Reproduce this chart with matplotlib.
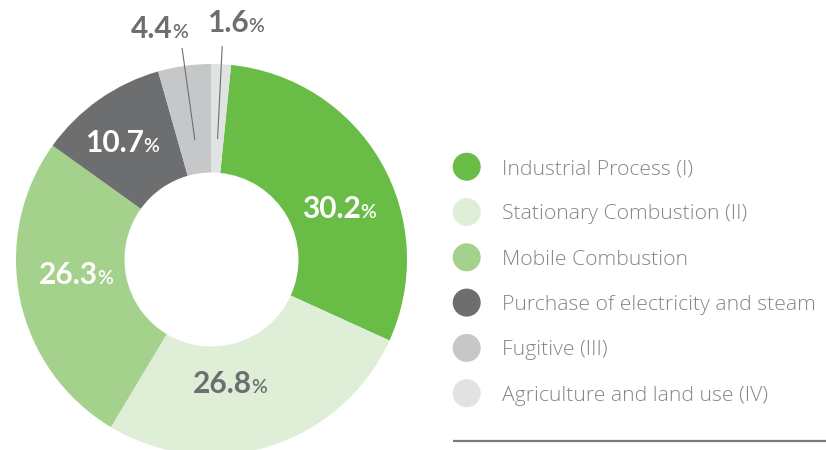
import numpy as np
import matplotlib.pyplot as plt

# emission sources, shares in %
categories = [
    "Industrial Process (I)",
    "Stationary Combustion (II)",
    "Mobile Combustion",
    "Purchase of electricity and steam",
    "Fugitive (III)",
    "Agriculture and land use (IV)",
]
shares = [30.2, 26.8, 26.3, 10.7, 4.4, 1.6]
labels = ["30.2", "26.8", "26.3", "10.7", "4.4", "1.6"]

colors = ["#69bd47", "#dfeed7", "#a4d18c", "#6d6e70", "#c6c7c9", "#e1e3e2"]
label_colors = ["white", "#6d6e70", "white", "white", "#6d6e70", "#6d6e70"]
# where the "number|%" junction sits, in pie data units (radius = 1)
label_xy = [(0.762, 0.212), (0.205, -0.683), (-0.580, -0.125),
            (-0.345, 0.550), (-0.197, 1.133), (0.190, 1.164)]
leader = [False, False, False, False, True, True]

W, H = 826, 450
fig = plt.figure(figsize=(W / 100, H / 100), dpi=100)

# donut, centre and radius in pixels
cx, cy, R = 211.5, 259.5, 195.5
ax = fig.add_axes([(cx - R) / W, (H - cy - R) / H, 2 * R / W, 2 * R / H])
start = 90 - 360 * shares[-1] / 100
wedges, _ = ax.pie(shares, colors=colors, startangle=start, counterclock=False,
                   radius=1, wedgeprops=dict(width=1 - 87 / R, linewidth=0))
ax.set_xlim(-1, 1)
ax.set_ylim(-1, 1)
ax.set_aspect("equal")
ax.axis("off")

for w, lab, (x, y), c, lead in zip(wedges, labels, label_xy, label_colors, leader):
    ax.text(x, y, lab, ha="right", va="baseline", color=c, fontsize=21.5,
            fontfamily="Lato", fontweight="bold")
    ax.text(x - 0.002, y, "%", ha="left", va="baseline", color=c, fontsize=14,
            fontfamily="Lato", fontweight="semibold")
    if lead:
        mid = np.deg2rad((w.theta1 + w.theta2) / 2)
        r = np.array([0.62, 1.09])
        ax.plot(r * np.cos(mid), r * np.sin(mid), color="#6d6e70", lw=0.8,
                clip_on=False)

# legend drawn on a pixel-scaled overlay
lg = fig.add_axes([0, 0, 1, 1])
lg.set_xlim(0, W)
lg.set_ylim(H, 0)
lg.axis("off")
rows = 166.7 + 45.3 * np.arange(len(categories))
lg.scatter(np.full(len(categories), 466.7), rows, s=(28 * 0.72) ** 2,
           c=colors, linewidths=0)
for y, name in zip(rows, categories):
    lg.text(502, y, name, ha="left", va="center_baseline", color="#858688",
            fontsize=15.2, fontfamily="Open Sans", fontweight="light")
lg.plot([453, W], [441, 441], color="#7b7b7b", lw=1.6, solid_capstyle="butt")

fig.savefig("out.png", dpi=100)
